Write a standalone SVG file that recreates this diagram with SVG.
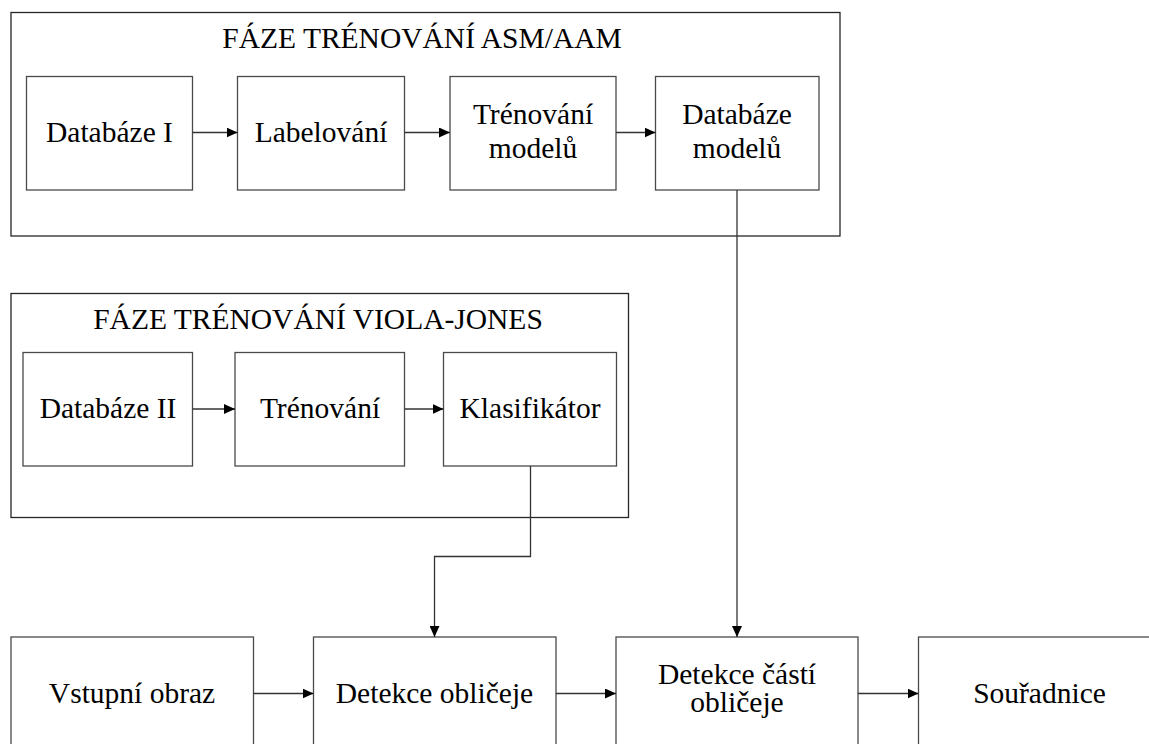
<svg xmlns="http://www.w3.org/2000/svg" width="1149" height="744" viewBox="0 0 1149 744">
<style>
.cont{fill:none;stroke:#262626;stroke-width:1.3}
.box{fill:#fff;stroke:#4a4a4a;stroke-width:1.3}
.t{font-family:"Liberation Serif","Times New Roman",serif;font-size:29.5px;fill:#000;text-anchor:middle}
.c{fill:none;stroke:#333;stroke-width:1.3}
</style>
<defs>
<marker id="ah" markerUnits="userSpaceOnUse" markerWidth="12" markerHeight="10" refX="11" refY="5" orient="auto">
<path d="M0,0 L11,5 L0,10 z" fill="#000"/>
</marker>
</defs>
<rect width="1149" height="744" fill="#fff"/>
<g id="phase-asm">
<rect class="cont" x="11" y="12.5" width="829" height="223.5"/>
<text class="t" x="422" y="48">FÁZE TRÉNOVÁNÍ ASM/AAM</text>
</g>
<g id="phase-vj">
<rect class="cont" x="11" y="293.5" width="617.5" height="224"/>
<text class="t" x="318" y="329">FÁZE TRÉNOVÁNÍ VIOLA-JONES</text>
</g>
<g id="db1"><rect class="box" x="26.5" y="76.5" width="166" height="113.5"/><text class="t" x="109.5" y="142">Databáze I</text></g>
<g id="label"><rect class="box" x="237.5" y="76.5" width="167" height="113.5"/><text class="t" x="321" y="142">Labelování</text></g>
<g id="train-models"><rect class="box" x="450" y="76.5" width="166" height="113.5"/><text class="t" x="533" y="123.5">Trénování</text><text class="t" x="533" y="158">modelů</text></g>
<g id="db-models"><rect class="box" x="655.5" y="76.5" width="163.5" height="113.5"/><text class="t" x="737" y="123.5">Databáze</text><text class="t" x="737" y="158">modelů</text></g>
<g id="db2"><rect class="box" x="23" y="352.5" width="169.5" height="113.5"/><text class="t" x="108" y="418">Databáze II</text></g>
<g id="train"><rect class="box" x="235" y="352.5" width="169.5" height="113.5"/><text class="t" x="320" y="418">Trénování</text></g>
<g id="classifier"><rect class="box" x="443.5" y="352.5" width="173" height="113.5"/><text class="t" x="530" y="418">Klasifikátor</text></g>
<g id="input"><rect class="box" x="11" y="637" width="242.5" height="113"/><text class="t" x="132" y="703">Vstupní obraz</text></g>
<g id="face-det"><rect class="box" x="313.5" y="637" width="242.5" height="113"/><text class="t" x="434.5" y="703">Detekce obličeje</text></g>
<g id="parts-det"><rect class="box" x="616" y="637" width="242" height="113"/><text class="t" x="737" y="684">Detekce částí</text><text class="t" x="737" y="712">obličeje</text></g>
<g id="coords"><rect class="box" x="918.5" y="637" width="242" height="113"/><text class="t" x="1039.5" y="703">Souřadnice</text></g>
<g id="connectors">
<line class="c" x1="192.5" y1="132.5" x2="237.5" y2="132.5" marker-end="url(#ah)"/>
<line class="c" x1="404.5" y1="132.5" x2="450" y2="132.5" marker-end="url(#ah)"/>
<line class="c" x1="616" y1="132.5" x2="655.5" y2="132.5" marker-end="url(#ah)"/>
<line class="c" x1="192.5" y1="409" x2="235" y2="409" marker-end="url(#ah)"/>
<line class="c" x1="404.5" y1="409" x2="443.5" y2="409" marker-end="url(#ah)"/>
<path class="c" d="M530.5,466 V556.5 H434.5 V637" marker-end="url(#ah)"/>
<path class="c" d="M737,190 V637" marker-end="url(#ah)"/>
<line class="c" x1="253.5" y1="693.5" x2="313.5" y2="693.5" marker-end="url(#ah)"/>
<line class="c" x1="556" y1="693.5" x2="616" y2="693.5" marker-end="url(#ah)"/>
<line class="c" x1="858" y1="693.5" x2="918.5" y2="693.5" marker-end="url(#ah)"/>
</g>
</svg>
